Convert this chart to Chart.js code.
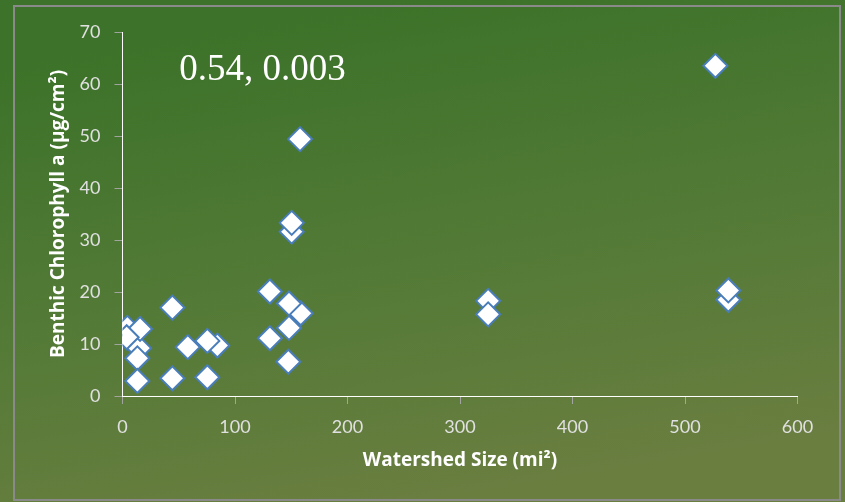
<!DOCTYPE html>
<html>
<head>
<meta charset="utf-8">
<script src="https://cdn.jsdelivr.net/npm/chart.js@4.4.1/dist/chart.umd.min.js"></script>
<style>
  html, body { margin: 0; padding: 0; background: #4f7a33; }
  #wrap { position: relative; width: 845px; height: 502px; }
</style>
</head>
<body>
<div id="wrap"><canvas id="c" width="845" height="502"></canvas></div>
<script>
// Watershed size (mi²) for each site
const watershedSize = [4.3, 14.7, 150.4, 538.5, 325, 84.3, 158.4,
  15.6, 3.7, 13.2, 13.2, 44.3, 44.3, 58, 75.4, 75.4,
  131, 148, 148, 131, 147.4, 157.8, 150.4, 527, 538.5, 325];
// Benthic chlorophyll a (µg/cm²) for each site
const chlorophyll = [13.1, 9.2, 31.6, 18.5, 18.3, 9.7, 15.9,
  12.9, 11.3, 7.25, 2.9, 17.0, 3.4, 9.4, 10.6, 3.6,
  20.1, 17.8, 13.1, 11.1, 6.6, 49.4, 33.3, 63.5, 20.3, 15.7];
const xTicks = [0, 100, 200, 300, 400, 500, 600];
const yTicks = [0, 10, 20, 30, 40, 50, 60, 70];
const annotationText = '0.54, 0.003';
const annotationAt = { x: 50.5, y: 60.8 };

const points = watershedSize.map((x, i) => ({ x: x, y: chlorophyll[i] }));

const bgPlugin = {
  id: 'bg',
  beforeDraw(chart) {
    const ctx = chart.ctx;
    const w = chart.width, h = chart.height;
    ctx.save();
    const g = ctx.createLinearGradient(w * 0.45, 0, w * 0.55, h);
    g.addColorStop(0, '#3c7229');
    g.addColorStop(0.5, '#527a36');
    g.addColorStop(1, '#6a7e40');
    ctx.fillStyle = g;
    ctx.fillRect(0, 0, w, h);
    ctx.strokeStyle = '#8a8a8a';
    ctx.lineWidth = 2;
    ctx.strokeRect(14, 6, 826, 494);
    ctx.restore();
  }
};

const notePlugin = {
  id: 'note',
  afterDraw(chart) {
    const ctx = chart.ctx;
    const px = chart.scales.x.getPixelForValue(annotationAt.x);
    const py = chart.scales.y.getPixelForValue(annotationAt.y);
    ctx.save();
    ctx.fillStyle = '#ffffff';
    ctx.font = '37px "Liberation Serif", "Times New Roman", serif';
    ctx.textAlign = 'left';
    ctx.textBaseline = 'alphabetic';
    ctx.fillText(annotationText, px, py);
    ctx.restore();
  }
};

const tickFont = { family: 'Lato, "Open Sans", sans-serif', size: 18 };
const titleFont = { family: '"Open Sans", Lato, sans-serif', size: 19, weight: 'bold' };

new Chart(document.getElementById('c'), {
  type: 'scatter',
  data: {
    datasets: [{
      data: points,
      pointStyle: 'rectRot',
      pointRadius: 12,
      pointHoverRadius: 12,
      pointBackgroundColor: '#ffffff',
      pointBorderColor: '#4a7ebb',
      pointBorderWidth: 2
    }]
  },
  options: {
    responsive: false,
    animation: false,
    events: [],
    layout: { padding: { left: 0, top: 32, right: 47.5, bottom: 0 } },
    plugins: { legend: { display: false }, tooltip: { enabled: false } },
    scales: {
      x: {
        type: 'linear',
        min: 0, max: 600,
        afterBuildTicks(s) { s.ticks = xTicks.map(v => ({ value: v })); },
        afterFit(s) { s.height = 106; },
        grid: { drawOnChartArea: false, drawTicks: true, tickLength: 8, color: 'rgba(170,170,170,0.9)' },
        border: { display: true, color: '#ffffff', width: 1 },
        ticks: { color: '#e0e0e0', font: tickFont, padding: 12, maxRotation: 0 },
        title: { display: true, text: 'Watershed Size (mi²)', color: '#ffffff', font: titleFont, padding: { top: 0, bottom: 30 } }
      },
      y: {
        type: 'linear',
        min: 0, max: 70,
        afterBuildTicks(s) { s.ticks = yTicks.map(v => ({ value: v })); },
        afterFit(s) { s.width = 122.5; },
        grid: { drawOnChartArea: false, drawTicks: true, tickLength: 8, color: 'rgba(170,170,170,0.9)' },
        border: { display: true, color: '#ffffff', width: 1 },
        ticks: { color: '#e0e0e0', font: tickFont, padding: 14 },
        title: { display: true, text: 'Benthic Chlorophyll a (µg/cm²)', color: '#ffffff', font: titleFont, padding: { top: 47, bottom: 0 } }
      }
    }
  },
  plugins: [bgPlugin, notePlugin]
});
</script>
</body>
</html>
